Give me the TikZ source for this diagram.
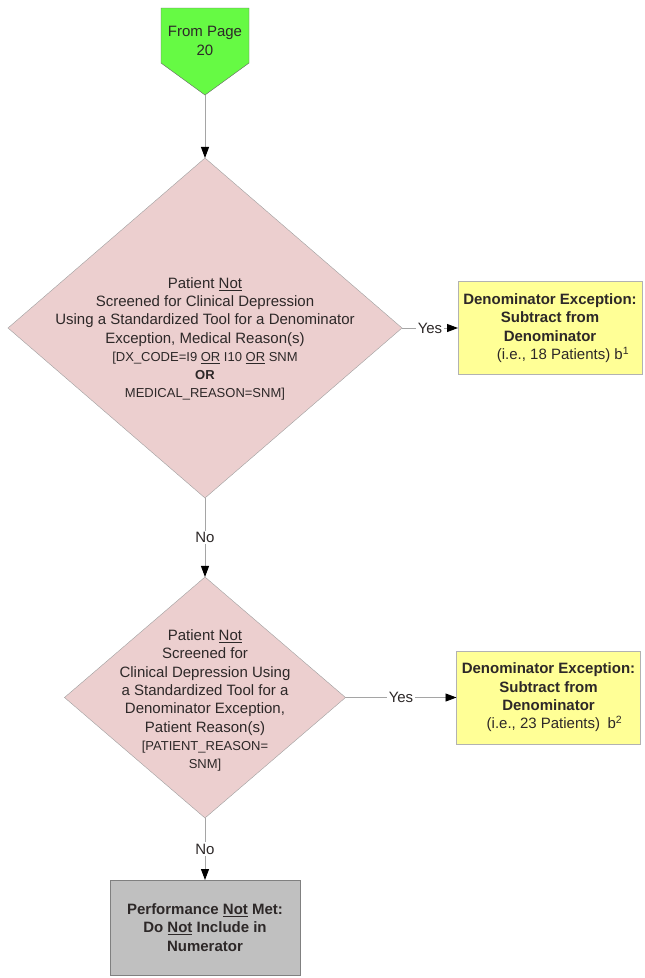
\documentclass[tikz,border=0pt]{standalone}
\usepackage{fontspec}
\setmainfont{Liberation Sans}
\usetikzlibrary{positioning,arrows.meta,shapes.geometric}

\definecolor{pagegreen}{RGB}{102,250,68}
\definecolor{decpink}{RGB}{236,207,207}
\definecolor{exyellow}{RGB}{255,255,150}
\definecolor{endgray}{RGB}{192,192,192}
\definecolor{linegray}{RGB}{165,165,165}
\definecolor{inkgray}{RGB}{45,40,40}

\newcommand{\bigf}{\fontsize{15}{18.3}\selectfont}
\newcommand{\smlf}{\fontsize{13}{16}\selectfont}

\begin{document}
\begin{tikzpicture}[
  x=1pt, y=-1pt,
  decision/.style={diamond, draw=gray!75, fill=decpink, inner sep=0pt, outer sep=0pt},
  dtext/.style={align=center, font=\bigf, text=inkgray, inner sep=0pt},
  exbox/.style={draw=gray!60, fill=exyellow, align=center, font=\bigf, text=inkgray,
                minimum width=184pt, minimum height=93pt, inner sep=0pt, outer sep=0pt},
  endbox/.style={draw=gray, fill=endgray, align=center, font=\bigf, text=inkgray,
                 minimum width=190pt, minimum height=95pt, inner sep=0pt, outer sep=0pt},
  flow/.style={draw=linegray, line width=0.9pt, -{Triangle[color=black, length=11pt, width=8pt]}},
  lbl/.style={fill=white, font=\bigf, text=inkgray, inner sep=1.5pt}
]
\useasboundingbox (0,0) rectangle (645,978);

% off-page connector
\draw[draw=gray!80!black, fill=pagegreen] (161,8) -- (249,8) -- (249,63) -- (205,95) -- (161,63) -- cycle;
\node[dtext] (from) at (205,41) {From Page\\20};
\coordinate (fromtip) at (205,95);

\node[decision, minimum width=394pt, minimum height=340pt] (dec1) at (205,328) {};
\node[dtext] (dec1txt) at (205,339) {Patient \underline{Not}\\
  Screened for Clinical Depression\\
  Using a Standardized Tool for a Denominator\\
  Exception, Medical Reason(s)\\
  {\smlf [DX\_CODE=I9 \underline{OR} I10 \underline{OR} SNM}\\
  {\smlf\bfseries OR}\\
  {\smlf MEDICAL\_REASON=SNM]}};
\node[exbox, right=56pt of dec1] (exc1) {\textbf{Denominator Exception:}\\
  \textbf{Subtract from}\\
  \textbf{Denominator}\\
  \hspace*{26pt}(i.e., 18 Patients) b\textsuperscript{1}};

\node[decision, minimum width=281pt, minimum height=241pt, below=79pt of dec1] (dec2) {};
\node[dtext] (dec2txt) at ([yshift=-3pt]dec2.center) {Patient \underline{Not}\\
  Screened for\\
  Clinical Depression Using\\
  a Standardized Tool for a\\
  Denominator Exception,\\
  Patient Reason(s)\\
  {\smlf [PATIENT\_REASON=}\\
  {\smlf SNM]}};
\node[exbox, right=111pt of dec2] (exc2) {\textbf{Denominator Exception:}\\
  \textbf{Subtract from}\\
  \textbf{Denominator}\\
  \hspace*{12pt}(i.e., 23 Patients)\enspace b\textsuperscript{2}};

\node[endbox, below=62pt of dec2] (notmet) {\textbf{Performance \underline{Not} Met:}\\
  \textbf{Do \underline{Not} Include in}\\
  \textbf{Numerator}};

\draw[flow] (fromtip) -- (dec1);
\draw[flow] (dec1) -- node[lbl]{Yes} (exc1);
\draw[flow] (dec1) -- node[lbl]{No} (dec2);
\draw[flow] (dec2) -- node[lbl]{Yes} (exc2);
\draw[flow] (dec2) -- node[lbl]{No} (notmet);
\end{tikzpicture}
\end{document}
